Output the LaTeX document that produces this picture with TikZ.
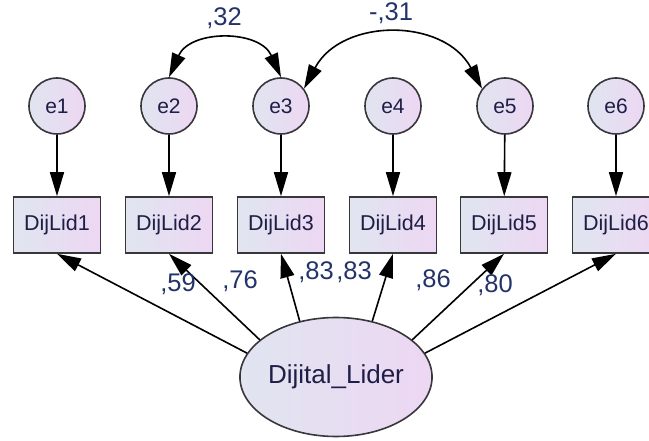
\documentclass[tikz,border=0pt]{standalone}
\usepackage{fontspec}
\setmainfont{Liberation Sans}
\usepackage{tikz}
\usetikzlibrary{
    positioning,
    arrows.meta,
    shapes.geometric
}
\definecolor{semBlue}{RGB}{224, 229, 240}
\definecolor{semPink}{RGB}{237, 215, 243}
\definecolor{semEdge}{RGB}{55, 55, 60}
\definecolor{semText}{RGB}{30, 30, 70}
\definecolor{semLabel}{RGB}{35, 50, 105}

\begin{document}
\begin{tikzpicture}[x=1pt, y=1pt, >={Triangle[length=24pt, width=14pt]},
    err/.style={circle, draw=semEdge, line width=1.6pt, left color=semBlue, right color=semPink,
        minimum size=56pt, inner sep=0pt, text=semText, font=\fontsize{21}{21}\selectfont},
    obs/.style={rectangle, draw=semEdge, line width=1.6pt, left color=semBlue, right color=semPink,
        minimum width=87pt, minimum height=56pt, inner sep=0pt, text=semText, font=\fontsize{21.5}{21.5}\selectfont},
    lat/.style={ellipse, draw=semEdge, line width=1.6pt, left color=semBlue, right color=semPink,
        minimum width=174pt, minimum height=119pt, inner sep=0pt, text=semText, font=\fontsize{26}{26}\selectfont},
    path/.style={->, line width=1.6pt, black},
    cov/.style={<->, line width=1.6pt, black},
    coef/.style={text=semLabel, inner sep=0pt, font=\fontsize{25.5}{25.5}\selectfont}]
        \useasboundingbox (0,0) rectangle (649,-441);

        % Error terms
        \node[err] (e1) at (57,-106) {e1};
        \node[err] (e2) at (169,-106) {e2};
        \node[err] (e3) at (281,-106) {e3};
        \node[err] (e4) at (393,-106) {e4};
        \node[err] (e5) at (505,-106) {e5};
        \node[err] (e6) at (616,-106) {e6};

        % Observed items
        \node[obs] (d1) at (57,-225) {DijLid1};
        \node[obs] (d2) at (169,-225) {DijLid2};
        \node[obs] (d3) at (281,-225) {DijLid3};
        \node[obs] (d4) at (393,-225) {DijLid4};
        \node[obs] (d5) at (504,-225) {DijLid5};
        \node[obs] (d6) at (616,-225) {DijLid6};

        % Latent factor
        \node[lat] (lider) at (336,-377) {Dijital\_Lider};

        % Error paths
        \draw[path] (e1) -- (d1);
        \draw[path] (e2) -- (d2);
        \draw[path] (e3) -- (d3);
        \draw[path] (e4) -- (d4);
        \draw[path] (e5) -- (d5);
        \draw[path] (e6) -- (d6);

        % Loadings
        \draw[path] (lider.165) -- (d1.south);
        \draw[path] (lider.154) -- (d2.south);
        \draw[path] (lider.123) -- (d3.south);
        \draw[path] (lider.57) -- (d4.south);
        \draw[path] (lider.26) -- (d5.south);
        \draw[path] (lider.15) -- (d6.south);
        \node[coef] (l1) at (178,-284) {,59};
        \node[coef] (l2) at (240,-281) {,76};
        \node[coef] (l3) at (316,-272) {,83};
        \node[coef] (l4) at (354,-272) {,83};
        \node[coef] (l5) at (433,-280) {,86};
        \node[coef] (l6) at (495,-285) {,80};

        % Covariances
        \draw[cov] (e2.90) to[out=66, in=114, looseness=1.2] (e3.90);
        \draw[cov] (e3.37) to[out=62, in=118, looseness=1.16] (e5.143);
        \node[coef] (c23) at (224,-18) {,32};
        \node[coef] (c35) at (391,-13) {-,31};
    \end{tikzpicture}
\end{document}
